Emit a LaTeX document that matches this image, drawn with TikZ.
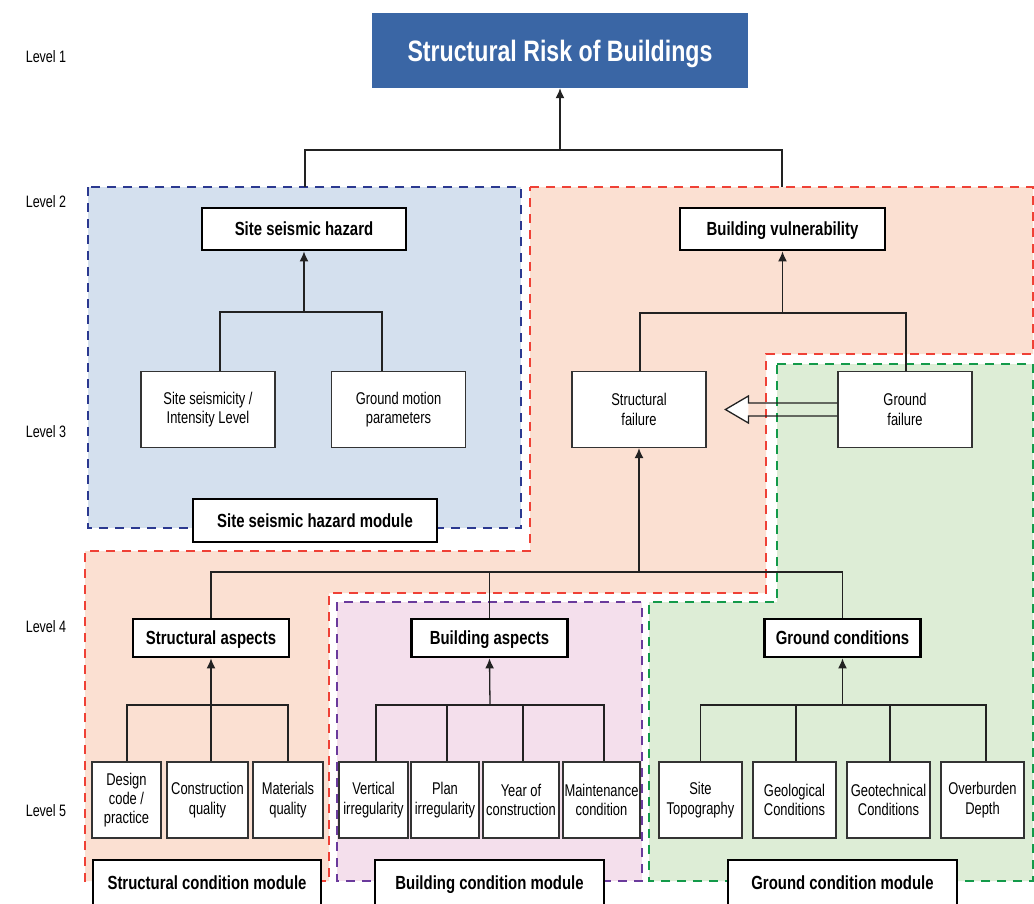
\documentclass[tikz,border=0pt]{standalone}
\usepackage{fontspec}
\setmainfont{Liberation Sans}[FakeStretch=0.76]
\newfontfamily\bnarrow{Liberation Sans}[FakeStretch=0.785]
\usetikzlibrary{arrows.meta}
\definecolor{titleblue}{HTML}{3A66A5}
\definecolor{bluefill}{HTML}{D4E0EE}
\definecolor{bluedash}{HTML}{2B3990}
\definecolor{orangefill}{HTML}{FBE0D2}
\definecolor{reddash}{HTML}{EF4136}
\definecolor{greenfill}{HTML}{DDEDD6}
\definecolor{greendash}{HTML}{139A4A}
\definecolor{purplefill}{HTML}{F4DFEC}
\definecolor{purpledash}{HTML}{6A3A9C}
\definecolor{boxgray}{HTML}{333333}
\definecolor{linegray}{HTML}{222222}
\begin{document}
\begin{tikzpicture}[x=1pt,y=-1pt,
  region/.style={line width=1.8pt, dash pattern=on 9pt off 7pt},
  box/.style={draw=boxgray, line width=1.2pt, fill=white, align=center, inner sep=1pt,
    font=\fontsize{17}{19.5}\selectfont},
  hbox/.style={draw=black, line width=2.8pt, fill=white, align=center, inner sep=1pt,
    text height=13.8pt, text depth=0pt,
    font=\bnarrow\bfseries\fontsize{19}{22}\selectfont},
  conn/.style={draw=linegray, line width=1.3pt},
  arr/.style={conn, -{Latex[length=10pt,width=9pt]}},
  lvl/.style={font=\fontsize{16.5}{19}\selectfont, inner sep=0pt}]
\useasboundingbox (0,0) rectangle (1034,903);
\fill[white] (0,0) rectangle (1034,903);

% regions
\path[region, fill=bluefill, draw=bluedash] (88,187) rectangle (521,528);
\path[region, fill=orangefill, draw=reddash] (530,187) -- (1033,187) -- (1033,354) -- (766,354) -- (766,593) -- (329,593) -- (329,881) -- (85,881) -- (85,551) -- (530,551) -- cycle;
\path[region, fill=greenfill, draw=greendash] (777,364) -- (1033,364) -- (1033,881) -- (649,881) -- (649,602) -- (777,602) -- cycle;
\path[region, fill=purplefill, draw=purpledash] (337,602) rectangle (642,881);

% level labels
\node[lvl] (lv1) at (46,57) {Level 1};
\node[lvl] (lv2) at (46,202) {Level 2};
\node[lvl] (lv3) at (46,432) {Level 3};
\node[lvl] (lv4) at (46,627) {Level 4};
\node[lvl] (lv5) at (46,811) {Level 5};

% nodes
\node[fill=titleblue, minimum width=376, minimum height=75, text=white, inner sep=0pt,
  text height=21.5pt, text depth=0pt,
  font=\bnarrow\bfseries\fontsize{29.5}{34}\selectfont] (title) at (560,50.5) {Structural Risk of Buildings};

\node[hbox, minimum width=204, minimum height=42] (ssh) at (304,229) {Site seismic hazard};
\node[hbox, minimum width=205, minimum height=42] (bv) at (782.5,229) {Building vulnerability};

\node[box, minimum width=134, minimum height=76] (ssi) at (208,409.5) {Site seismicity /\\Intensity Level};
\node[box, minimum width=134, minimum height=76] (gm) at (398.5,409.5) {Ground motion\\parameters};
\node[box, minimum width=134, minimum height=76] (sf) at (639,409.5) {Structural\\failure};
\node[box, minimum width=134, minimum height=76] (gf) at (905,409.5) {Ground\\failure};

\node[hbox, minimum width=244, minimum height=43] (sshm) at (315,520.5) {Site seismic hazard module};

\node[hbox, minimum width=156, minimum height=38] (sa) at (211,638) {Structural aspects};
\node[hbox, minimum width=156, minimum height=38] (ba) at (489.5,638) {Building aspects};
\node[hbox, minimum width=156, minimum height=38] (gc) at (842.5,638) {Ground conditions};

\node[box, minimum width=69, minimum height=76, font=\fontsize{17}{19}\selectfont] (dc) at (126.5,800) {Design\\code /\\practice};
\node[box, minimum width=81, minimum height=76] (cq) at (207.5,800) {Construction\\quality};
\node[box, minimum width=70, minimum height=76] (mq) at (288,800) {Materials\\quality};

\node[box, minimum width=69, minimum height=76] (vi) at (373.5,800) {Vertical\\irregularity};
\node[box, minimum width=68, minimum height=76] (pi) at (445,800) {Plan\\irregularity};
\node[box, minimum width=76, minimum height=76] (yc) at (521,800) {Year of\\construction};
\node[box, minimum width=77, minimum height=76] (mc) at (601.5,800) {Maintenance\\condition};

\node[box, minimum width=83, minimum height=76] (st) at (700.5,800) {Site\\Topography};
\node[box, minimum width=83, minimum height=76] (geo) at (794.5,800) {Geological\\Conditions};
\node[box, minimum width=83, minimum height=76] (gt) at (888.5,800) {Geotechnical\\Conditions};
\node[box, minimum width=83, minimum height=76] (od) at (982.5,800) {Overburden\\Depth};

\node[hbox, minimum width=228, minimum height=46] (scm) at (207,883) {Structural condition module};
\node[hbox, minimum width=229, minimum height=46] (bcm) at (489.5,883) {Building condition module};
\node[hbox, minimum width=229, minimum height=46] (gcm) at (842.5,883) {Ground condition module};

% level 2 -> level 1
\coordinate (j1) at (560,150);
\coordinate (blueTop) at (305,187);
\coordinate (orangeTop) at (782,187);
\draw[conn] (blueTop) |- (j1) -| (orangeTop);
\draw[arr] (j1) -- (title.south);

% site seismic hazard
\coordinate (j2l) at (304,312);
\draw[conn] ([xshift=12]ssi.north) |- (j2l) -| ([xshift=-16.5]gm.north);
\draw[arr] (j2l) -- (ssh.south);

% building vulnerability
\coordinate (j2r) at (782.5,313);
\draw[conn] ([xshift=1]sf.north) |- (j2r) -| ([xshift=1]gf.north);
\draw[arr] (j2r) -- (bv.south);

% hollow arrow ground failure -> structural failure
\fill[white] ([xshift=-89,yshift=13.5]gf.west) -- ([xshift=-112]gf.west) -- ([xshift=-89,yshift=-13.5]gf.west) -- cycle;
\draw[conn, line join=miter] ([yshift=6.5]gf.west) -- ++(-89,0) -- ++(0,-7) -- ++(-23,13.5) -- ++(23,13.5) -- ++(0,-7) -- ++(89,0);

% level 4 -> structural failure
\coordinate (j3) at (639,572);
\draw[conn] (sa.north) |- (j3) -| (gc.north);
\draw[conn] (ba.north) -- (ba.north |- j3);
\draw[arr] (j3) -- (sf.south);

% structural aspects
\coordinate (j4a) at (211,705);
\draw[conn] ([xshift=0.5]dc.north) |- (j4a) -| (mq.north);
\draw[conn] (cq.north -| j4a) -- (j4a);
\draw[arr] (j4a) -- (sa.south);

% building aspects
\coordinate (j4b) at (490,705);
\draw[conn] ([xshift=2.5]vi.north) |- (j4b) -| ([xshift=2.5]mc.north);
\draw[conn] ([xshift=2]pi.north) -- ++(0,-57);
\draw[conn] ([xshift=2]yc.north) -- ++(0,-57);
\draw[arr] (j4b) -- (ba.south);

% ground conditions
\coordinate (j4c) at (842.5,705);
\draw[conn] (st.north) |- (j4c) -| ([xshift=3.5]od.north);
\draw[conn] ([xshift=1.5]geo.north) -- ++(0,-57);
\draw[conn] ([xshift=1.5]gt.north) -- ++(0,-57);
\draw[arr] (j4c) -- (gc.south);
\end{tikzpicture}
\end{document}
